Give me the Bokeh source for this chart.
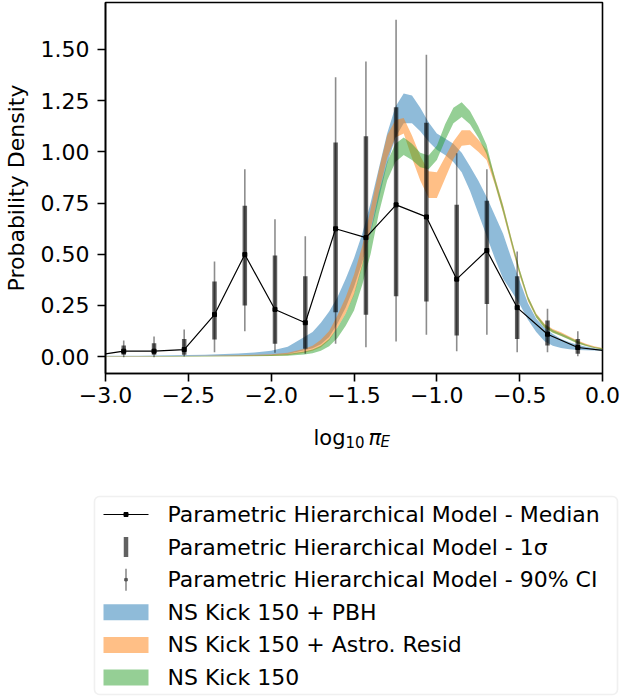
from bokeh.plotting import figure
from bokeh.layouts import column
from bokeh.models import Range1d, FixedTicker, BoxAnnotation
from bokeh.embed import file_html
from bokeh.resources import INLINE
from bokeh.core.properties import value

FONT = "DejaVu Sans"
FS = "22px"

# ---------------- data ----------------
bin_x = [-2.890, -2.707, -2.525, -2.342, -2.159, -1.977, -1.794, -1.611,
         -1.428, -1.246, -1.063, -0.880, -0.698, -0.515, -0.332, -0.149]
median = [0.026, 0.026, 0.034, 0.205, 0.498, 0.230, 0.165, 0.624,
          0.581, 0.741, 0.682, 0.378, 0.518, 0.239, 0.109, 0.044]
sig_lo = [0.008, 0.008, 0.008, 0.083, 0.249, 0.062, 0.038, 0.216,
          0.204, 0.295, 0.269, 0.103, 0.257, 0.086, 0.054, 0.013]
sig_hi = [0.054, 0.065, 0.086, 0.366, 0.736, 0.493, 0.392, 1.045,
          1.076, 1.218, 1.142, 0.741, 0.761, 0.392, 0.176, 0.086]
ci_lo = [-0.003, -0.003, 0.000, 0.021, 0.124, 0.018, 0.013, 0.062,
         0.045, 0.073, 0.106, 0.026, 0.106, 0.021, 0.021, 0.001]
ci_hi = [0.078, 0.098, 0.132, 0.464, 0.915, 0.671, 0.588, 1.364,
         1.441, 1.645, 1.474, 0.993, 0.915, 0.513, 0.233, 0.124]
# median line also runs to the plot edges
edge_x = [-3.0, 0.0]
edge_y = [0.013, 0.030]

band_x = [-3.0, -2.8, -2.6, -2.4, -2.2, -2.1, -2.0, -1.9, -1.8, -1.75, -1.7,
          -1.65, -1.6, -1.55, -1.5, -1.45, -1.4, -1.35, -1.3, -1.25, -1.2,
          -1.15, -1.1, -1.05, -1.0, -0.95, -0.9, -0.85, -0.8, -0.75, -0.7,
          -0.65, -0.6, -0.55, -0.5, -0.45, -0.4, -0.35, -0.3, -0.25, -0.2,
          -0.15, -0.1, -0.05, 0.0]
pbh_lo = [0.000, 0.000, 0.001, 0.002, 0.003, 0.004, 0.006, 0.012, 0.030, 0.040, 0.060,
          0.095, 0.160, 0.240, 0.340, 0.460, 0.600, 0.770, 0.940, 1.070, 1.140,
          1.140, 1.100, 1.050, 1.010, 0.985, 0.950, 0.900, 0.810, 0.700, 0.590,
          0.480, 0.380, 0.320, 0.255, 0.180, 0.120, 0.075, 0.052, 0.042, 0.036,
          0.032, 0.030, 0.029, 0.028]
pbh_hi = [0.004, 0.004, 0.006, 0.009, 0.015, 0.020, 0.028, 0.048, 0.095, 0.120, 0.165,
          0.220, 0.290, 0.380, 0.480, 0.600, 0.750, 0.920, 1.090, 1.220, 1.285,
          1.275, 1.215, 1.145, 1.090, 1.065, 1.040, 0.995, 0.930, 0.860, 0.780,
          0.690, 0.600, 0.480, 0.370, 0.260, 0.185, 0.140, 0.110, 0.085, 0.070,
          0.058, 0.048, 0.040, 0.036]
astro_lo = [0.000, 0.000, 0.000, 0.001, 0.001, 0.002, 0.003, 0.006, 0.018, 0.028, 0.045,
            0.080, 0.140, 0.210, 0.300, 0.440, 0.620, 0.800, 0.970, 1.070, 1.090,
            0.970, 0.860, 0.775, 0.775, 0.870, 0.965, 1.030, 1.035, 1.000, 0.960,
            0.840, 0.700, 0.545, 0.395, 0.270, 0.190, 0.140, 0.118, 0.102, 0.084,
            0.065, 0.052, 0.042, 0.034]
astro_hi = [0.002, 0.002, 0.003, 0.004, 0.006, 0.008, 0.011, 0.018, 0.038, 0.052, 0.082,
            0.125, 0.200, 0.290, 0.400, 0.540, 0.720, 0.910, 1.080, 1.155, 1.165,
            1.080, 0.980, 0.905, 0.900, 0.975, 1.050, 1.105, 1.105, 1.060, 1.010,
            0.880, 0.740, 0.580, 0.425, 0.295, 0.210, 0.160, 0.134, 0.118, 0.098,
            0.078, 0.062, 0.050, 0.041]
kick_lo = [0.000, 0.000, 0.000, 0.000, 0.001, 0.001, 0.002, 0.004, 0.010, 0.016, 0.028,
           0.050, 0.090, 0.150, 0.225, 0.350, 0.500, 0.700, 0.860, 0.950, 0.985,
           0.960, 0.925, 0.915, 0.960, 1.055, 1.140, 1.170, 1.135, 1.070, 0.990,
           0.845, 0.705, 0.552, 0.400, 0.275, 0.190, 0.140, 0.116, 0.100, 0.082,
           0.063, 0.051, 0.041, 0.034]
kick_hi = [0.001, 0.001, 0.002, 0.003, 0.004, 0.005, 0.007, 0.012, 0.024, 0.034, 0.052,
           0.085, 0.140, 0.210, 0.305, 0.450, 0.610, 0.800, 0.950, 1.040, 1.070,
           1.040, 0.995, 0.982, 1.030, 1.135, 1.215, 1.242, 1.200, 1.125, 1.035,
           0.875, 0.735, 0.578, 0.425, 0.295, 0.207, 0.156, 0.130, 0.113, 0.094,
           0.074, 0.059, 0.047, 0.040]

x_ticks = [-3.0, -2.5, -2.0, -1.5, -1.0, -0.5, 0.0]
x_tick_labels = ["\u22123.0", "\u22122.5", "\u22122.0", "\u22121.5", "\u22121.0", "\u22120.5", "0.0"]
y_ticks = [0.0, 0.25, 0.5, 0.75, 1.0, 1.25, 1.5]
y_tick_labels = ["0.00", "0.25", "0.50", "0.75", "1.00", "1.25", "1.50"]

legend_labels = ["Parametric Hierarchical Model - Median",
                 "Parametric Hierarchical Model - 1\u03c3",
                 "Parametric Hierarchical Model - 90% CI",
                 "NS Kick 150 + PBH",
                 "NS Kick 150 + Astro. Resid",
                 "NS Kick 150"]
band_colors = ["#1f77b4", "#ff7f0e", "#2ca02c"]

# ---------------- main figure ----------------
PH = 413
p = figure(width=622, height=PH, x_range=Range1d(-3.0, 0.0),
           y_range=Range1d(-0.083, 1.7296), output_backend="svg",
           toolbar_location=None, min_border_left=105, min_border_right=20,
           min_border_top=2, min_border_bottom=40)
p.frame_align = False
p.xgrid.visible = False
p.ygrid.visible = False
p.outline_line_color = "black"
p.outline_line_width = 1.6
p.outline_line_alpha = 1.0

for ax in (p.xaxis[0], p.yaxis[0]):
    ax.axis_line_width = 1.6
    ax.major_tick_line_width = 1.6
    ax.major_tick_out = 8
    ax.major_tick_in = 0
    ax.minor_tick_line_color = None
    ax.major_label_text_font = FONT
    ax.major_label_text_font_size = FS
    ax.major_label_text_color = "black"
p.xaxis.major_label_standoff = 5
p.yaxis.major_label_standoff = 8

p.xaxis.ticker = FixedTicker(ticks=x_ticks)
p.xaxis.major_label_overrides = {t: l for t, l in zip(x_ticks, x_tick_labels)}
p.yaxis.ticker = FixedTicker(ticks=y_ticks)
p.yaxis.major_label_overrides = {t: l for t, l in zip(y_ticks, y_tick_labels)}

p.yaxis.axis_label = "Probability Density"
p.yaxis.axis_label_text_font = FONT
p.yaxis.axis_label_text_font_size = FS
p.yaxis.axis_label_text_font_style = "normal"
p.yaxis.axis_label_text_color = "black"
p.yaxis.axis_label_standoff = 9

for lo, hi, c in zip([pbh_lo, astro_lo, kick_lo], [pbh_hi, astro_hi, kick_hi], band_colors):
    p.varea(x=band_x, y1=lo, y2=hi, fill_color=c, fill_alpha=0.5)

p.segment(x0=bin_x, y0=ci_lo, x1=bin_x, y1=ci_hi, line_color="black",
          line_alpha=0.45, line_width=1.6)
p.segment(x0=bin_x, y0=sig_lo, x1=bin_x, y1=sig_hi, line_color="black",
          line_alpha=0.62, line_width=4.5)
line_x = [edge_x[0]] + bin_x + [edge_x[1]]
line_y = [edge_y[0]] + median + [edge_y[1]]
p.line(line_x, line_y, line_color="black", line_width=1.2)
p.scatter(bin_x, median, marker="square", size=4, color="black")

# ---------------- lower panel: x-axis title and legend ----------------
LH = 699 - PH
q = figure(width=622, height=LH, x_range=Range1d(0, 622), y_range=Range1d(LH, 0),
           output_backend="svg", toolbar_location=None, min_border=0,
           x_axis_type=None, y_axis_type=None)
q.frame_align = False
q.xgrid.visible = False
q.ygrid.visible = False
q.outline_line_color = None

# x axis title  log10 pi_E  (pieces: text, x, baseline, size, style)
base = 24
xt_pieces = [("log", 313, base, "21px", "normal"),
             ("10", 345, base + 4, "15px", "normal"),
             ("\u03c0", 368, base, "21px", "italic"),
             ("E", 380, base + 4, "15px", "italic")]
for txt, xx, yy, fs, st in xt_pieces:
    q.text(x=[xx], y=[yy], text=[txt], text_font=value(FONT), text_font_size=fs,
           text_font_style=st, text_baseline="alphabetic", text_align="left",
           text_color="black")

# legend frame
q.add_layout(BoxAnnotation(left=94, right=617, top=83, bottom=281,
                           fill_color="white", fill_alpha=1.0, level="underlay",
                           line_color="#cccccc", line_width=1.6, border_radius=5))
row0, drow = 101, 32.6
rows = [row0 + i * drow for i in range(len(legend_labels))]
gx0, gx1 = 103, 148
gxc = (gx0 + gx1) / 2
# median entry
q.line([gx0, gx1], [rows[0], rows[0]], line_color="black", line_width=1.2)
q.scatter([gxc], [rows[0]], marker="square", size=4, color="black")
# 1 sigma entry
q.segment(x0=[gxc], y0=[rows[1] - 10], x1=[gxc], y1=[rows[1] + 10],
          line_color="black", line_alpha=0.62, line_width=4.5)
# 90% CI entry
q.segment(x0=[gxc], y0=[rows[2] - 11], x1=[gxc], y1=[rows[2] + 11],
          line_color="black", line_alpha=0.45, line_width=1.6)
q.scatter([gxc], [rows[2]], marker="square", size=2.5, color="#555555")
# band entries
for i, c in enumerate(band_colors):
    r = rows[3 + i]
    q.quad(left=[gx0], right=[gx1], top=[r - 8], bottom=[r + 8],
           fill_color=c, fill_alpha=0.5, line_color=None)
q.text(x=[167] * len(rows), y=rows, text=legend_labels, text_font=value(FONT),
       text_font_size=FS, text_baseline="middle", text_align="left",
       text_color="black")

layout = column(p, q, spacing=0)
open("out.html", "w").write(file_html(layout, INLINE))
